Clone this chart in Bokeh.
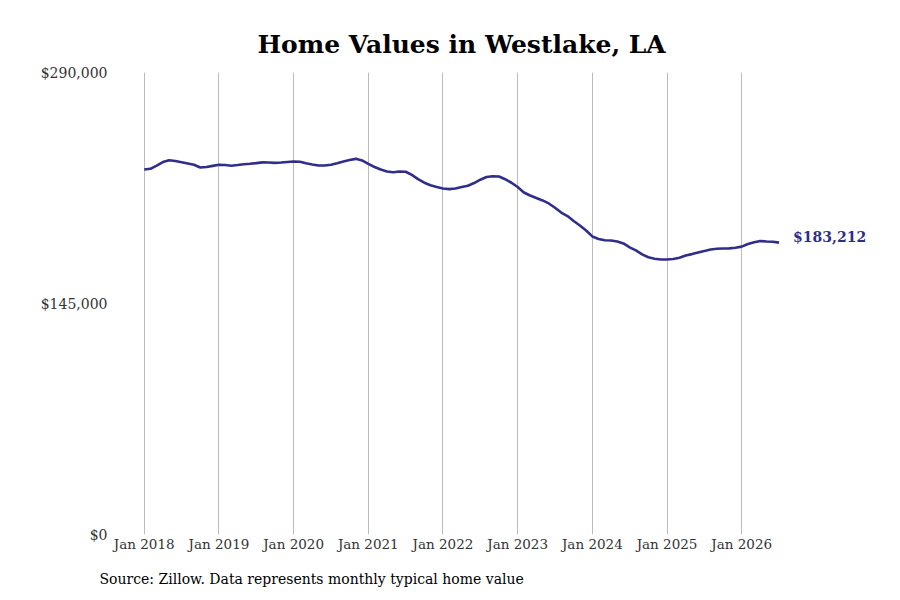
from bokeh.plotting import figure
from bokeh.models import FixedTicker, Label, Title
from bokeh.embed import file_html
from bokeh.resources import INLINE

# Months since Jan 2018 (0 = Jan 2018 ... 102 = Jul 2026)
values = [
    229100, 229550, 231600, 233800, 234900, 234450, 233700, 232900, 232100, 230400, 230700, 231400,
    232100, 231900, 231500, 231900, 232400, 232700, 233100, 233600, 233500, 233300, 233500, 233800,
    234100, 234000, 233000, 232200, 231600, 231600, 232100, 233000, 234100, 235100, 235800, 234800,
    232600, 230700, 229100, 227900, 227400, 227900, 227700, 225700, 223100, 220800, 219200, 218100,
    217200, 216800, 217200, 218100, 218900, 220600, 222700, 224400, 224900, 224700, 223000, 220800,
    218100, 214700, 212800, 211200, 209700, 207800, 205100, 202100, 199900, 196800, 194000, 190800,
    187100, 185500, 184700, 184500, 183900, 182700, 180200, 178300, 175800, 174000, 173100, 172600,
    172600, 172900, 173700, 175100, 176000, 177000, 178000, 178900, 179400, 179500, 179600, 180000,
    180700, 182300, 183400, 184200, 183900, 183800, 183212,
]
months = list(range(len(values)))

tick_positions = [0, 12, 24, 36, 48, 60, 72, 84, 96]
tick_labels = ["Jan 2018", "Jan 2019", "Jan 2020", "Jan 2021", "Jan 2022",
               "Jan 2023", "Jan 2024", "Jan 2025", "Jan 2026"]
y_ticks = [0, 145000, 290000]
y_labels = ["$0", "$145,000", "$290,000"]

title_text = "Home Values in Westlake, LA"
source_text = "Source: Zillow. Data represents monthly typical home value"
last_label = "$183,212"

LINE = "#312d8a"
FONT = "DejaVu Serif"

p = figure(width=892, height=600, output_backend="svg", toolbar_location=None,
           x_range=(-5.1, 118.3), y_range=(0, 290000),
           min_border_left=112, min_border_right=12, min_border_top=72, min_border_bottom=66)
p.outline_line_color = None
p.background_fill_color = "white"
p.border_fill_color = "white"

p.title.text = title_text
p.title.text_font = FONT
p.title.text_font_size = "25px"
p.title.text_font_style = "bold"
p.title.text_color = "black"
p.title.align = "left"
p.title.offset = 145
p.title.standoff = 27

p.add_layout(Title(text=source_text, text_font=FONT, text_font_size="14px",
                   text_font_style="normal", text_color="black", align="left",
                   offset=-13, standoff=28), "below")

p.line(months, values, line_color=LINE, line_width=2.6)

p.add_layout(Label(x=months[-1], y=values[-1], text=last_label, x_offset=14, y_offset=6,
                   text_font=FONT, text_font_size="14px", text_font_style="bold",
                   text_color=LINE, text_baseline="middle"))

p.xaxis.ticker = FixedTicker(ticks=tick_positions)
p.xaxis.major_label_overrides = {t: l for t, l in zip(tick_positions, tick_labels)}
p.yaxis.ticker = FixedTicker(ticks=y_ticks)
p.yaxis.major_label_overrides = {t: l for t, l in zip(y_ticks, y_labels)}

for ax in (p.xaxis, p.yaxis):
    ax.axis_line_color = None
    ax.major_tick_line_color = None
    ax.minor_tick_line_color = None
    ax.major_tick_out = 0
    ax.major_tick_in = 0
    ax.minor_tick_out = 0
    ax.major_label_text_font = FONT
    ax.major_label_text_color = "#333333"
p.xaxis.major_label_text_font_size = "13.5px"
p.yaxis.major_label_text_font_size = "14px"
p.xaxis.major_label_standoff = 1
p.yaxis.major_label_standoff = 5

p.xgrid.grid_line_color = "#bbbbbb"
p.xgrid.grid_line_width = 1
p.ygrid.grid_line_color = None

open("out.html", "w").write(file_html(p, INLINE))
